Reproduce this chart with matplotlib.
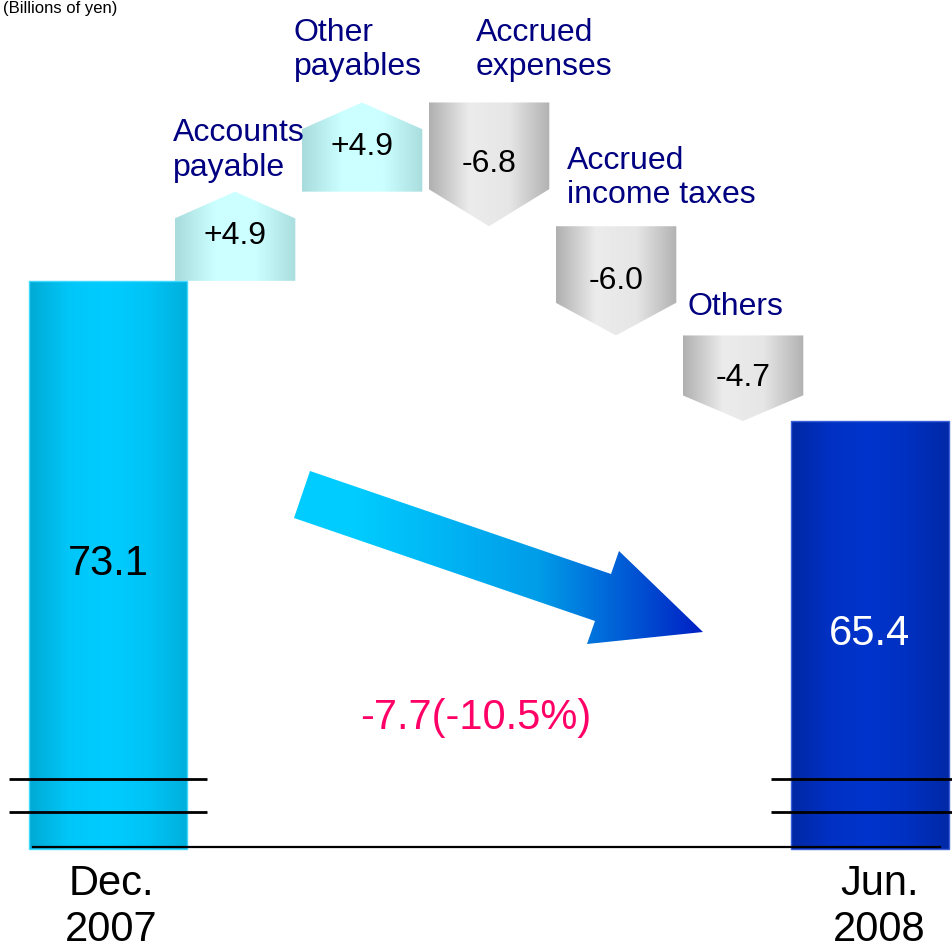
import numpy as np
import matplotlib
matplotlib.use("Agg")
import matplotlib.pyplot as plt
from matplotlib.patches import Polygon, Rectangle
from matplotlib.colors import LinearSegmentedColormap

plt.rcParams['font.family'] = ['Liberation Sans', 'DejaVu Sans']

# data (billions of yen)
start_label = "Dec.\n2007"
end_label = "Jun.\n2008"
start_value = 73.1
end_value = 65.4
step_labels = ["Accounts\npayable", "Other\npayables", "Accrued\nexpenses",
               "Accrued\nincome taxes", "Others"]
step_changes = [4.9, 4.9, -6.8, -6.0, -4.7]
unit_label = "(Billions of yen)"

NAVY = '#000080'


def gradient_shape(ax, verts, colors, z, transform=None):
    tr = ax.transData if transform is None else transform
    poly = Polygon(verts, closed=True, facecolor='none', edgecolor='none',
                   transform=tr, zorder=z)
    ax.add_patch(poly)
    xs = [v[0] for v in verts]
    ys = [v[1] for v in verts]
    cmap = LinearSegmentedColormap.from_list('g', colors)
    im = ax.imshow(np.linspace(0, 1, 256).reshape(1, -1), cmap=cmap,
                   extent=[min(xs), max(xs), min(ys), max(ys)],
                   aspect='auto', origin='lower', interpolation='bilinear',
                   zorder=z, transform=tr)
    im.set_clip_path(poly)
    return poly


fig = plt.figure(figsize=(9.52, 9.49), dpi=100)
ax = fig.add_axes([0, 0, 1, 1])
ax.axis('off')

base = 42.0          # axis is broken, bars start here
bar_w = 1.24
arr_w = 0.95
head_frac = 0.3
n = len(step_changes)
x_start, x_end = 0, n + 1

# end bars
bar_styles = [
    (x_start, start_value, ['#00a9d4', '#00c6f8', '#00ccff', '#00c4f6', '#00b0dc'], '#40d9ff', 'black'),
    (x_end, end_value, ['#0028a4', '#0031c4', '#0034cc', '#0030c0', '#0029a6'], '#3a5fd8', 'white'),
]
for x, v, cols, edge, tcol in bar_styles:
    verts = [(x - bar_w / 2, base - 0.1), (x + bar_w / 2, base - 0.1),
             (x + bar_w / 2, v), (x - bar_w / 2, v)]
    gradient_shape(ax, verts, cols, 2)
    ax.add_patch(Rectangle((x - bar_w / 2, base - 0.1), bar_w, v - base + 0.1,
                           facecolor='none', edgecolor=edge, lw=1.0, zorder=3))
    ax.text(x, (base + v) / 2, f"{v:.1f}", ha='center', va='center',
            fontsize=30, color=tcol, zorder=5)

# step arrows
label_offsets = [(-62, 9), (-68, 20), (-13, 20), (-49, 16), (-55, 13)]
levels = start_value + np.concatenate([[0], np.cumsum(step_changes)])
for i, (lab, d) in enumerate(zip(step_labels, step_changes)):
    c = i + 1
    y0, y1 = levels[i], levels[i + 1]
    h = head_frac * abs(d)
    if d > 0:
        cols = ['#a8dcdc', '#ccffff', '#ccffff', '#aadede']
        shoulder = y1 - h
    else:
        cols = ['#b0b0b0', '#ececec', '#e6e6e6', '#b2b2b2']
        shoulder = y1 + h
    verts = [(c - arr_w / 2, y0), (c + arr_w / 2, y0), (c + arr_w / 2, shoulder),
             (c, y1), (c - arr_w / 2, shoulder)]
    gradient_shape(ax, verts, cols, 2)
    ax.text(c, (y0 + y1) / 2, f"{d:+.1f}", ha='center', va='center',
            fontsize=23, color='black', zorder=5)
    dx, dy = label_offsets[i]
    ax.annotate(lab, xy=(c, max(y0, y1)), xytext=(dx, dy),
                textcoords='offset pixels', ha='left', va='bottom',
                fontsize=23, color=NAVY, linespacing=1.2, zorder=5)

# big trend arrow (decoration, axes fraction)
W, H = 952.0, 949.0
arrow_px = [(310, 471), (611, 574), (619, 551), (703, 632), (587, 644),
            (595, 621), (294, 518)]
arrow_ax = [(px / W, 1 - py / H) for px, py in arrow_px]
gradient_shape(ax, arrow_ax, [(0, '#00ccff'), (0.15, '#00ccff'),
                              (0.6, '#009ce8'), (1, '#0020c4')],
               3, transform=ax.transAxes)

diff = end_value - start_value
pct = diff / start_value * 100
ax.text(0.5, 1 - 718 / H, f"{diff:.1f}({pct:.1f}%)", transform=ax.transAxes,
        ha='center', va='center', fontsize=30, color='#ff0066', zorder=5)

# broken axis marks and baseline
for x in (x_start, x_end):
    for yb in (base + 3.75, base + 1.9):
        ax.plot([x - 0.78, x + 0.78], [yb, yb], color='black', lw=2, zorder=4,
                solid_capstyle='butt')
ax.plot([x_start - 0.59, x_end + 0.55], [base, base], color='black', lw=1.6,
        zorder=4)

for x, lab in ((x_start, start_label), (x_end + 0.05, end_label)):
    ax.annotate(lab, xy=(x, base), xytext=(3, -17), textcoords='offset pixels',
                ha='center', va='top', fontsize=30, color='black',
                linespacing=1.2)

ax.text(0.003, 1 - 1 / H, unit_label, transform=ax.transAxes, ha='left',
        va='top', fontsize=12, color='black')

ax.set_xlim(-0.8504, 6.646)
ax.set_ylim(36.39, 88.53)

fig.savefig("out.png", dpi=100)
